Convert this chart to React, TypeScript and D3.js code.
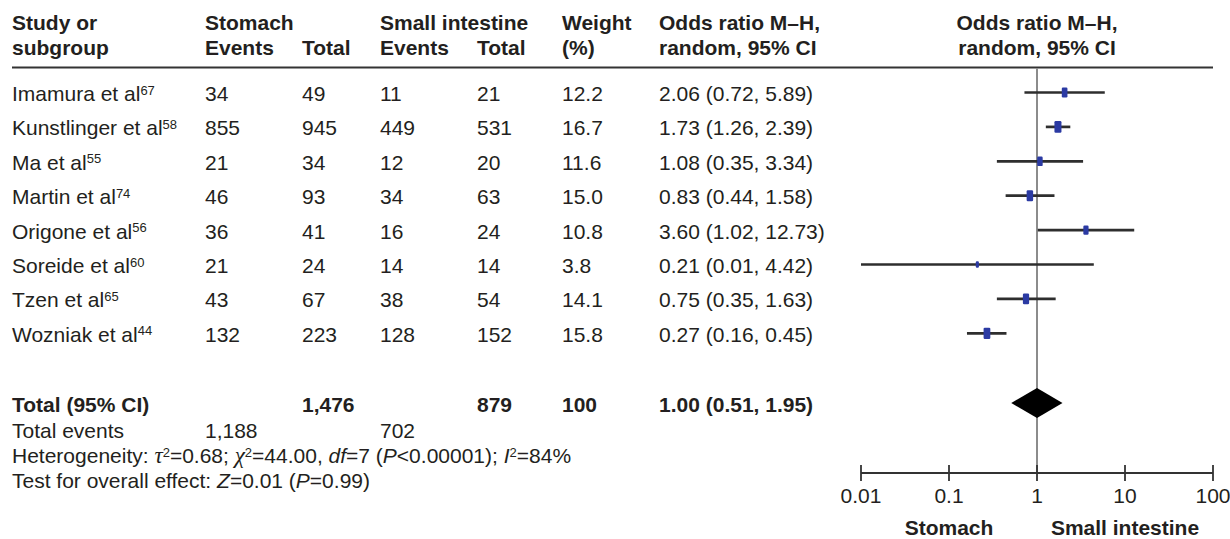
import React from "react";
import * as d3 from "d3";

// Study rows
const studies = [
  "Imamura et al",
  "Kunstlinger et al",
  "Ma et al",
  "Martin et al",
  "Origone et al",
  "Soreide et al",
  "Tzen et al",
  "Wozniak et al",
];
const refs = ["67", "58", "55", "74", "56", "60", "65", "44"];
const stomachEvents = [34, 855, 21, 46, 36, 21, 43, 132];
const stomachTotal = [49, 945, 34, 93, 41, 24, 67, 223];
const smallEvents = [11, 449, 12, 34, 16, 14, 38, 128];
const smallTotal = [21, 531, 20, 63, 24, 14, 54, 152];
const weights = [12.2, 16.7, 11.6, 15.0, 10.8, 3.8, 14.1, 15.8];
const oddsRatio = [2.06, 1.73, 1.08, 0.83, 3.6, 0.21, 0.75, 0.27];
const ciLow = [0.72, 1.26, 0.35, 0.44, 1.02, 0.01, 0.35, 0.16];
const ciHigh = [5.89, 2.39, 3.34, 1.58, 12.73, 4.42, 1.63, 0.45];

// Pooled estimate
const pooled = { or: 1.0, lo: 0.51, hi: 1.95 };
const totalStomach = "1,476";
const totalSmall = "879";
const totalWeight = "100";
const totalEventsStomach = "1,188";
const totalEventsSmall = "702";

// Axis
const axisTicks = [0.01, 0.1, 1, 10, 100];
const axisTickLabels = ["0.01", "0.1", "1", "10", "100"];

const W = 1230;
const H = 539;
const FONT = "'Liberation Sans', Arial, Helvetica, sans-serif";
const MATH = "'Liberation Serif', 'Times New Roman', serif";
const FS = 21;
const INK = "#231f20";

const col = {
  study: 12,
  sEv: 205,
  sTot: 302,
  iEv: 380,
  iTot: 477,
  weight: 562,
  or: 659,
};

const x = d3.scaleLog().domain([0.01, 100]).range([861, 1213]);
const yRow = d3.scaleLinear().domain([0, 7]).range([101, 341.8]);

const fmt2 = (v: number) => v.toFixed(2);
const fmtCI = (o: number, l: number, h: number) => `${fmt2(o)} (${fmt2(l)}, ${fmt2(h)})`;

export default function App() {
  const axisY = 473;
  const totalY = 412;
  const zeroX = x(1);

  const diamond = d3.line()([
    [x(pooled.lo), totalY - 9],
    [x(pooled.or), totalY - 24],
    [x(pooled.hi), totalY - 9],
    [x(pooled.or), totalY + 6],
  ]) + "Z";

  return (
    <div style={{ position: "absolute", left: 0, top: 0 }}>
      <svg width={W} height={H} style={{ display: "block", background: "#fff" }} fontFamily={FONT} fill={INK}>
        {/* column headers */}
        <g fontWeight="bold" fontSize={FS}>
          <text x={col.study} y={30}>Study or</text>
          <text x={col.study} y={55}>subgroup</text>
          <text x={col.sEv} y={30}>Stomach</text>
          <text x={col.sEv} y={55}>Events</text>
          <text x={col.sTot} y={55}>Total</text>
          <text x={col.iEv} y={30}>Small intestine</text>
          <text x={col.iEv} y={55}>Events</text>
          <text x={col.iTot} y={55}>Total</text>
          <text x={col.weight} y={30}>Weight</text>
          <text x={col.weight} y={55}>(%)</text>
          <text x={col.or} y={30}>Odds ratio M–H,</text>
          <text x={col.or} y={55}>random, 95% CI</text>
          <text x={zeroX} y={30} textAnchor="middle">Odds ratio M–H,</text>
          <text x={zeroX} y={55} textAnchor="middle">random, 95% CI</text>
        </g>
        <line x1={12} x2={1213} y1={67.5} y2={67.5} stroke="#333" strokeWidth={1.8} />

        {/* line of no effect */}
        <line x1={zeroX} x2={zeroX} y1={68} y2={axisY} stroke="#8c8c8c" strokeWidth={2} />

        {/* study rows */}
        <g fontSize={FS}>
          {studies.map((s, i) => {
            const y = yRow(i);
            return (
              <g key={s}>
                <text x={col.study} y={y}>
                  {s}
                  <tspan fontSize={13} dy={-6.5}>{refs[i]}</tspan>
                </text>
                <text x={col.sEv} y={y}>{stomachEvents[i]}</text>
                <text x={col.sTot} y={y}>{stomachTotal[i]}</text>
                <text x={col.iEv} y={y}>{smallEvents[i]}</text>
                <text x={col.iTot} y={y}>{smallTotal[i]}</text>
                <text x={col.weight} y={y}>{weights[i].toFixed(1)}</text>
                <text x={col.or} y={y}>{fmtCI(oddsRatio[i], ciLow[i], ciHigh[i])}</text>
              </g>
            );
          })}
        </g>

        {/* study estimates */}
        {studies.map((s, i) => {
          const cy = yRow(i) - 8.5;
          const w = 2 + weights[i] * 0.3;
          const h = 5 + weights[i] * 0.4;
          return (
            <g key={"m" + s}>
              <line x1={x(ciLow[i])} x2={x(ciHigh[i])} y1={cy} y2={cy} stroke="#2e2e2e" strokeWidth={2.7} />
              <rect
                x={x(oddsRatio[i]) - w / 2}
                y={cy - h / 2}
                width={w}
                height={h}
                rx={1.2}
                fill="#2b3aa3"
              />
            </g>
          );
        })}

        {/* pooled row */}
        <g fontSize={FS} fontWeight="bold">
          <text x={col.study} y={totalY}>Total (95% CI)</text>
          <text x={col.sTot} y={totalY}>{totalStomach}</text>
          <text x={col.iTot} y={totalY}>{totalSmall}</text>
          <text x={col.weight} y={totalY}>{totalWeight}</text>
          <text x={col.or} y={totalY}>{fmtCI(pooled.or, pooled.lo, pooled.hi)}</text>
        </g>
        <path d={diamond} fill="#000" />

        <g fontSize={FS}>
          <text x={col.study} y={438}>Total events</text>
          <text x={col.sEv} y={438}>{totalEventsStomach}</text>
          <text x={col.iEv} y={438}>{totalEventsSmall}</text>
          <text x={col.study} y={463}>
            Heterogeneity: <tspan fontStyle="italic" fontFamily={MATH} fontSize={23}>τ</tspan>
            <tspan fontSize={13} dy={-6.5}>2</tspan>
            <tspan dy={6.5}>=0.68; </tspan>
            <tspan fontStyle="italic" fontFamily={MATH} fontSize={23}>χ</tspan>
            <tspan fontSize={13} dy={-6.5}>2</tspan>
            <tspan dy={6.5}>=44.00, </tspan>
            <tspan fontStyle="italic">df</tspan>
            <tspan>=7 (</tspan>
            <tspan fontStyle="italic">P</tspan>
            <tspan>{"<0.00001); "}</tspan>
            <tspan fontStyle="italic">I</tspan>
            <tspan fontSize={13} dy={-6.5}>2</tspan>
            <tspan dy={6.5}>=84%</tspan>
          </text>
          <text x={col.study} y={488}>
            Test for overall effect: <tspan fontStyle="italic">Z</tspan>
            <tspan>=0.01 (</tspan>
            <tspan fontStyle="italic">P</tspan>
            <tspan>=0.99)</tspan>
          </text>
        </g>

        {/* log axis */}
        <line x1={x(0.01)} x2={x(100)} y1={axisY} y2={axisY} stroke="#333" strokeWidth={2} />
        {axisTicks.map((t, i) => (
          <g key={t}>
            <line x1={x(t)} x2={x(t)} y1={axisY - 8} y2={axisY + 8} stroke="#333" strokeWidth={1.8} />
            <text x={x(t)} y={503} fontSize={FS} textAnchor="middle">{axisTickLabels[i]}</text>
          </g>
        ))}
        <g fontSize={FS} fontWeight="bold" textAnchor="middle">
          <text x={x(0.1)} y={535}>Stomach</text>
          <text x={x(10)} y={535}>Small intestine</text>
        </g>
      </svg>
    </div>
  );
}
